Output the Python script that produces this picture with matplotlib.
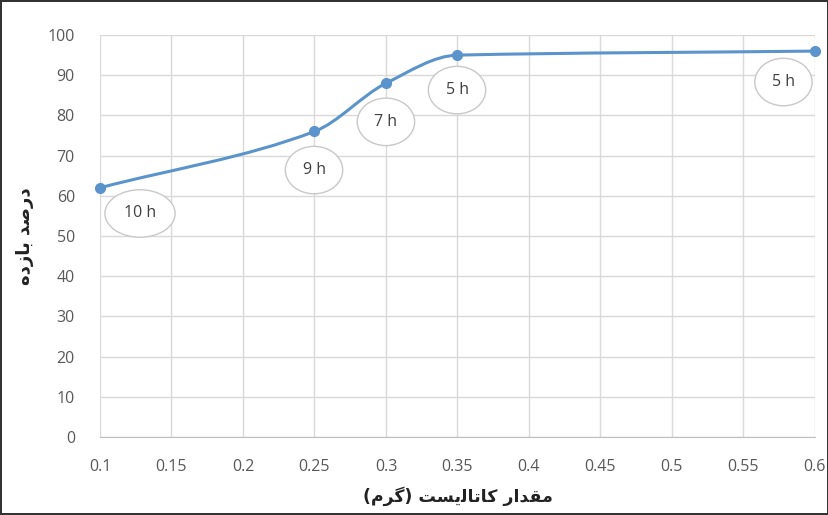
import matplotlib.pyplot as plt
from matplotlib.path import Path
from matplotlib.patches import PathPatch

# داده ها
catalyst = [0.1, 0.25, 0.3, 0.35, 0.6]
yield_pct = [62, 76, 88, 95, 96]
times = ['10 h', '9 h', '7 h', '5 h', '5 h']
label_pos = [(0.128, 55.6), (0.2497, 66.4), (0.3, 78.4), (0.3497, 86.3), (0.578, 88.3)]
xticks = [0.1, 0.15, 0.2, 0.25, 0.3, 0.35, 0.4, 0.45, 0.5, 0.55, 0.6]
xtick_labels = ['0.1', '0.15', '0.2', '0.25', '0.3', '0.35', '0.4', '0.45', '0.5', '0.55', '0.6']
yticks = list(range(0, 101, 10))

# متن فارسی به صورت شکل های نمایشی (matplotlib راست به چپ را شکل نمی دهد)
ylabel_fa = '\uFEE9\uFEA9\uFEAF\uFE8E\uFE91 \uFEAA\uFEBB\uFEAD\uFEA9'  # درصد بازده
xlabel_fa = ('(\uFEE1\uFEAE\uFB94) \uFE96\uFEB4\uFBFE\uFEDF\uFE8E\uFE97\uFE8E\uFB90 '
             '\uFEAD\uFE8D\uFEAA\uFED8\uFEE3')  # مقدار کاتالیست (گرم)

line_color = '#5b93cc'
text_gray = '#595959'


def smooth_path(xs, ys):
    # منحنی هموار (بزیه مکعبی با شیب های یکنوا)
    n = len(xs)
    sec = [(ys[i + 1] - ys[i]) / (xs[i + 1] - xs[i]) for i in range(n - 1)]
    slopes = [sec[0]]
    for i in range(1, n - 1):
        a, b = sec[i - 1], sec[i]
        slopes.append(0 if a * b <= 0 else 2 * a * b / (a + b))
    slopes.append(sec[-1])
    verts = [(xs[0], ys[0])]
    codes = [Path.MOVETO]
    for i in range(n - 1):
        h = (xs[i + 1] - xs[i]) / 3
        verts += [(xs[i] + h, ys[i] + slopes[i] * h),
                  (xs[i + 1] - h, ys[i + 1] - slopes[i + 1] * h),
                  (xs[i + 1], ys[i + 1])]
        codes += [Path.CURVE4] * 3
    return Path(verts, codes)


fig = plt.figure(figsize=(8.29, 5.15), dpi=100)
fig.patch.set_edgecolor('#333333')
fig.patch.set_linewidth(1.5)
ax = fig.add_axes([0.1206, 0.1515, 0.8624, 0.7805])

ax.add_patch(PathPatch(smooth_path(catalyst, yield_pct), fill=False,
                       edgecolor=line_color, linewidth=2.2, zorder=3))
ax.plot(catalyst, yield_pct, 'o', color=line_color, markersize=7, zorder=4,
        clip_on=False)

for (lx, ly), t in zip(label_pos, times):
    ax.text(lx, ly, t, ha='center', va='center', fontsize=11.5, color='#404040',
            family='Open Sans', zorder=5,
            bbox=dict(boxstyle='ellipse,pad=0.55', facecolor='white',
                      edgecolor='#c8c8c8', linewidth=1))

ax.set_xlim(0.1, 0.6)
ax.set_ylim(0, 100)
ax.set_xticks(xticks)
ax.set_xticklabels(xtick_labels)
ax.set_yticks(yticks)
ax.grid(True, color='#d9d9d9', linewidth=1)
ax.set_axisbelow(True)
for s in ['top', 'right', 'left']:
    ax.spines[s].set_visible(False)
ax.spines['bottom'].set_color('#bfbfbf')
ax.tick_params(length=0, labelsize=11.5, colors=text_gray)
ax.tick_params(axis='x', pad=16)
ax.tick_params(axis='y', pad=18)
for lab in ax.get_xticklabels() + ax.get_yticklabels():
    lab.set_family('Open Sans')

ax.set_ylabel(ylabel_fa, fontsize=13, fontweight='bold', color='#222222',
              family='DejaVu Sans', labelpad=10)
ax.set_xlabel(xlabel_fa, fontsize=12.5, fontweight='bold', color='#222222',
              family='DejaVu Sans', labelpad=8)

fig.savefig('out.png', dpi=100)
